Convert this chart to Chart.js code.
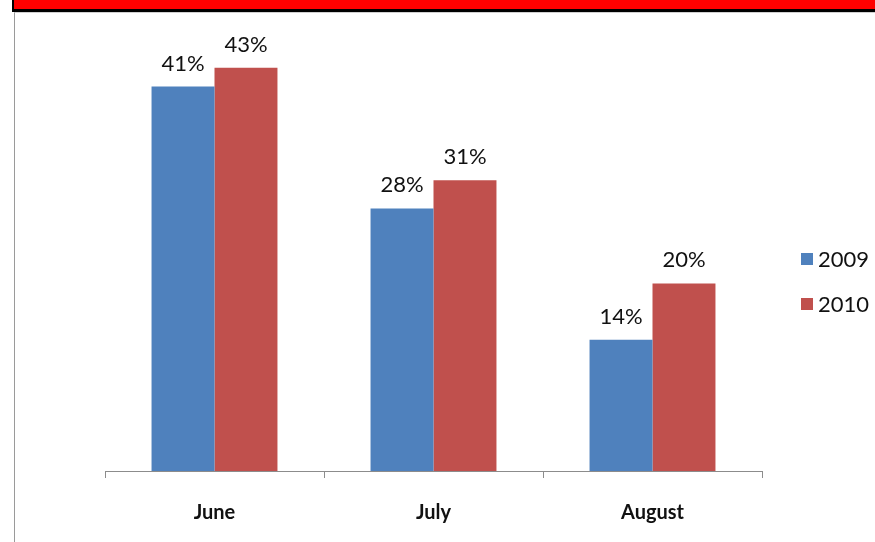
<!DOCTYPE html>
<html>
<head>
<meta charset="utf-8">
<script src="https://cdn.jsdelivr.net/npm/chart.js@4/dist/chart.umd.min.js"></script>
<style>
  html, body { margin: 0; padding: 0; background: #fff; }
  #wrap { position: relative; width: 875px; height: 542px; overflow: hidden; background: #fff; }
  #banner { position: absolute; left: 12px; top: 0; width: 870px; height: 9px; background: #ff0000;
            border-left: 2px solid #000; border-bottom: 3px solid #000; }
  #frame { position: absolute; left: 14px; top: 12px; width: 870px; height: 540px;
           border-left: 1px solid #9a9a9a; border-top: 1px solid #d0d0d0; }
  #c { position: absolute; left: 0; top: 0; }
</style>
</head>
<body>
<div id="wrap">
  <div id="banner"></div>
  <div id="frame"></div>
  <canvas id="c" width="875" height="542"></canvas>
</div>
<script>
// Monthly shares by year
const months = ['June', 'July', 'August'];
const seriesNames = ['2009', '2010'];
const values2009 = [41, 28, 14];
const values2010 = [43, 31, 20];

const BLUE = '#4f81bd';
const RED = '#c0504d';
const FONT = 'Lato, "Open Sans", Arial, sans-serif';

// Percent labels above each bar
const barLabels = {
  id: 'barLabels',
  afterDatasetsDraw(chart) {
    const ctx = chart.ctx;
    ctx.save();
    ctx.fillStyle = '#111';
    ctx.font = '22px ' + FONT;
    ctx.textAlign = 'center';
    ctx.textBaseline = 'alphabetic';
    chart.data.datasets.forEach((ds, i) => {
      chart.getDatasetMeta(i).data.forEach((bar, j) => {
        ctx.fillText(ds.data[j] + '%', bar.x, bar.y - 16);
      });
    });
    ctx.restore();
  }
};

// Legend at the right, stacked vertically
const sideLegend = {
  id: 'sideLegend',
  afterDraw(chart) {
    const ctx = chart.ctx;
    ctx.save();
    ctx.font = '22px ' + FONT;
    ctx.textBaseline = 'middle';
    ctx.textAlign = 'left';
    const rows = [259, 304];
    chart.data.datasets.forEach((ds, i) => {
      const y = rows[i];
      ctx.fillStyle = ds.backgroundColor;
      ctx.fillRect(801, y - 6, 12, 12);
      ctx.fillStyle = '#111';
      ctx.fillText(ds.label, 818, y + 1);
    });
    ctx.restore();
  }
};

new Chart(document.getElementById('c'), {
  type: 'bar',
  data: {
    labels: months,
    datasets: [
      { label: seriesNames[0], data: values2009, backgroundColor: BLUE },
      { label: seriesNames[1], data: values2010, backgroundColor: RED }
    ]
  },
  options: {
    responsive: false,
    animation: false,
    events: [],
    layout: { padding: { left: 105, right: 113, top: 49, bottom: 0 } },
    categoryPercentage: 0.575,
    barPercentage: 1,
    plugins: { legend: { display: false }, tooltip: { enabled: false } },
    scales: {
      x: {
        offset: true,
        grid: { offset: true, drawOnChartArea: false, drawTicks: true, tickLength: 7, color: '#8c8c8c', lineWidth: 1 },
        border: { display: true, color: '#8c8c8c', width: 1 },
        ticks: { color: '#111', font: { family: FONT, size: 20, weight: 'bold' }, padding: 23 },
        afterFit(scale) { scale.height = 71; }
      },
      y: {
        display: false,
        min: 0,
        max: 45
      }
    }
  },
  plugins: [barLabels, sideLegend]
});
</script>
</body>
</html>
